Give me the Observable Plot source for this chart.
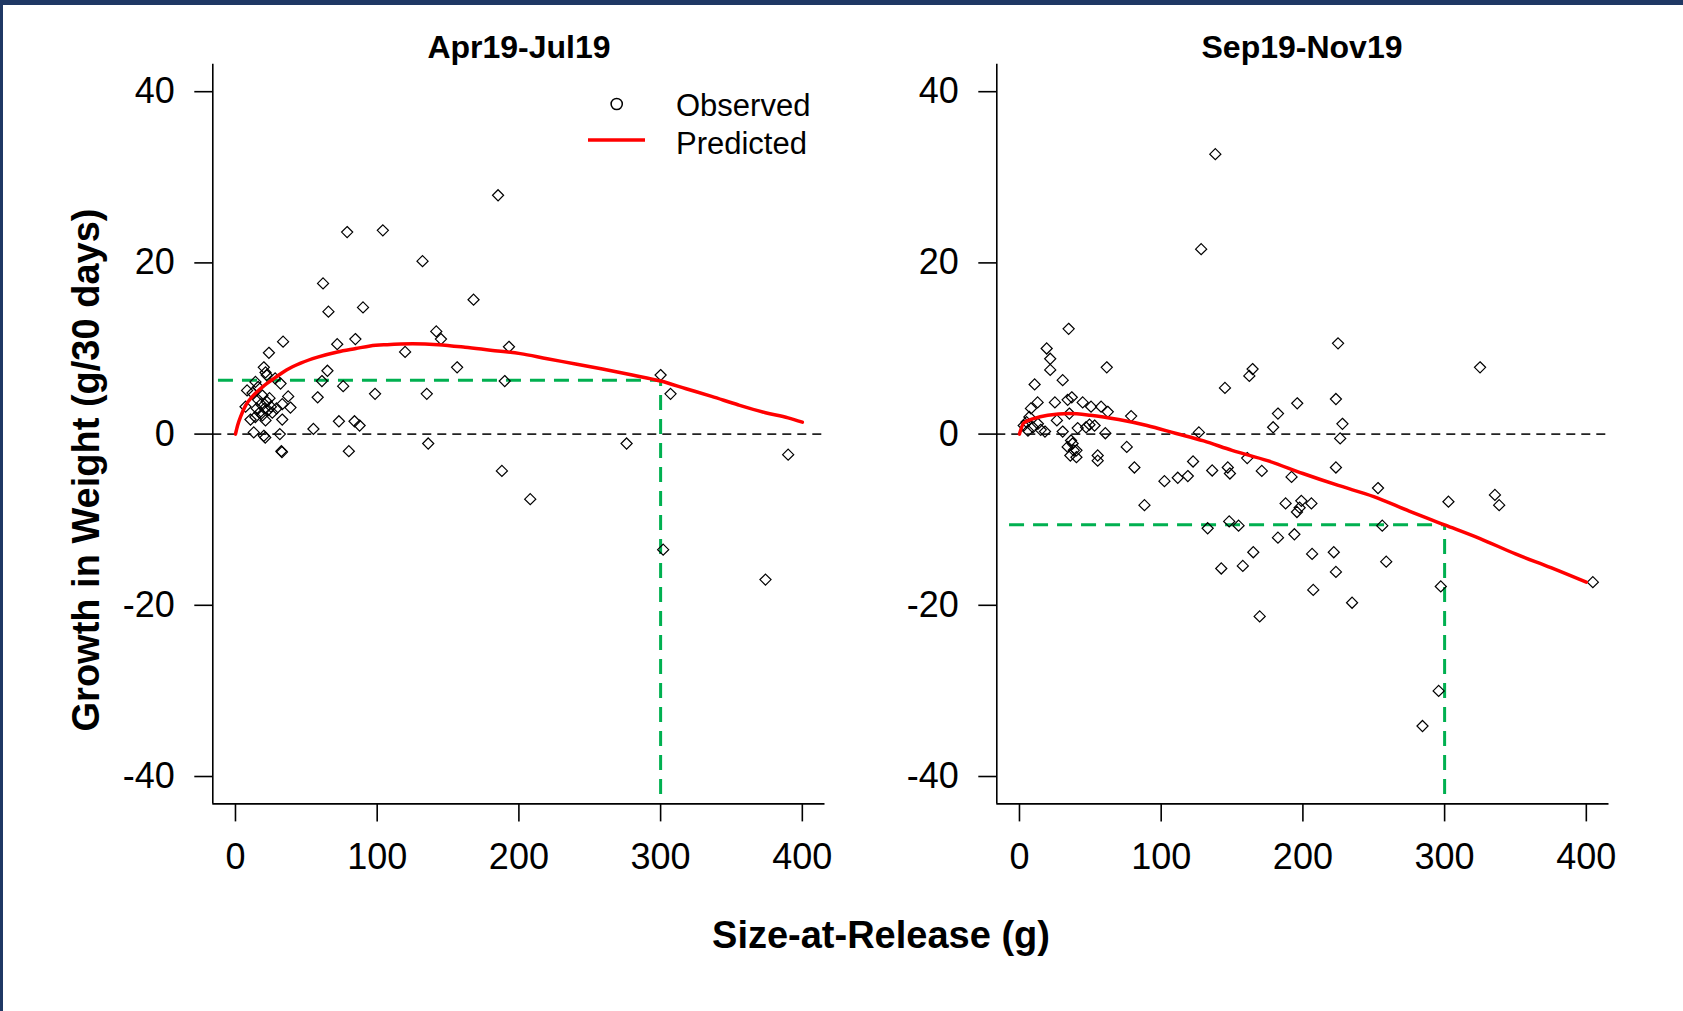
<!DOCTYPE html>
<html>
<head>
<meta charset="utf-8">
<script src="https://cdn.jsdelivr.net/npm/d3@7"></script>
<script src="https://cdn.jsdelivr.net/npm/@observablehq/plot@0.6"></script>
<style>
  html, body { margin: 0; padding: 0; background: #ffffff; }
  #wrap { position: relative; width: 1683px; height: 1011px; background: #ffffff; overflow: hidden;
          font-family: "Liberation Sans", Arial, sans-serif; }
  .panel { position: absolute; }
  #overlay { position: absolute; left: 0; top: 0; }
</style>
</head>
<body>
<div id="wrap"></div>
<script>
// ---------- data ----------
const panelTitles = ["Apr19-Jul19", "Sep19-Nov19"];
const xTitle = "Size-at-Release (g)";
const yTitle = "Growth in Weight (g/30 days)";
const legendLabels = ["Observed", "Predicted"];
const xTicks = [0, 100, 200, 300, 400];
const yTicks = [-40, -20, 0, 20, 40];
const xDomain = [-16, 416];
const yDomain = [-43.2, 43.2];

// Apr19-Jul19 observed
const aprObsX = [185.3, 78.8, 104, 132, 61.8, 168, 65.6, 90, 33.6, 23.6, 141.7, 145, 84.6, 71.8, 193, 119.7, 156.4, 64.9, 61, 190,
  76, 98.5, 135, 58, 300, 307, 55, 73, 84, 87.6, 136, 80, 276, 390, 188, 208, 301.8, 374, 32.4, 32.8,
  20, 21.2, 22, 14.1, 31.8, 8.2, 37.2, 38.8, 33, 7.1, 10.6, 21.2, 33, 12.9, 20, 21, 31.3, 16, 18, 19,
  20.5, 22, 23, 24, 25, 17, 15, 19, 26, 12, 16, 28, 29, 14];
const aprObsY = [27.9, 23.6, 23.8, 20.2, 17.6, 15.7, 14.3, 14.8, 10.8, 9.5, 12.0, 11.1, 11.1, 10.5, 10.2, 9.6, 7.8, 7.4, 6.2, 6.2,
  5.6, 4.7, 4.7, 4.3, 6.9, 4.7, 0.6, 1.5, 1.5, 1.0, -1.1, -2.0, -1.1, -2.4, -4.3, -7.6, -13.5, -17.0, -2.0, -2.1,
  7.8, 7.2, 6.9, 6.1, 5.9, 5.1, 4.4, 3.1, 3.5, 3.2, 1.7, 1.6, 1.7, 0.2, -0.2, -0.4, 0.0, 4.0, 3.5, 4.5,
  3.0, 3.8, 2.8, 4.2, 3.2, 2.5, 3.0, 2.2, 2.5, 4.8, 5.5, 6.5, 3.0, 2.0];
// Apr19-Jul19 predicted
const aprPredX = [0, 1.5, 4, 7, 12, 17.6, 22, 28, 36, 46, 58, 72, 85, 95, 107, 125, 143, 162, 180, 201,
  220, 240, 259, 280, 300, 318, 336, 355, 374, 390, 400];
const aprPredY = [0, 1.0, 2.2, 3.3, 4.4, 5.3, 5.9, 6.6, 7.5, 8.3, 9.0, 9.6, 10.0, 10.3, 10.45, 10.55, 10.45, 10.15, 9.8, 9.4,
  8.8, 8.2, 7.6, 6.9, 6.2, 5.3, 4.4, 3.4, 2.5, 1.9, 1.4];

// Sep19-Nov19 observed
const sepObsX = [34.7, 19.2, 21.7, 21.7, 61.6, 10.7, 30.5, 12.8, 8.1, 25, 34, 36.9, 44.6, 50.5, 57.6, 62.3, 78.8, 26.4, 35.2, 41.1,
  47, 49.4, 53, 60.6, 30.5, 18, 6, 75.7, 81.1, 36.4, 37.5, 34, 38.3, 35.9, 40.2, 40.2, 55.2, 55.2, 88.2, 5,
  9.5, 13, 15, 3, 7,
  138.2, 128.2, 224.8, 325, 164.5, 162.2, 145, 223.3, 196, 182.4, 227.9, 179, 126.6, 226.3, 122.5, 102.3, 111.7, 118.8, 136, 147,
  148.5, 160.7, 171, 223.3, 192, 253, 302.7, 335.5, 338.5, 187.8, 198.9, 197.7, 195.8, 206, 132.8, 148, 154.6, 182.4, 194, 256,
  165, 206.5, 221.8, 142.4, 157.6, 258.8, 223.3, 297.3, 404.6, 207.3, 234.7, 169.5, 295.8, 284.4];
const sepObsY = [12.3, 10.0, 8.8, 7.5, 7.8, 5.8, 6.3, 3.7, 3.0, 3.7, 4.0, 4.3, 3.7, 3.2, 3.2, 2.6, 2.1, 1.6, 2.4, 0.7,
  0.8, 1.1, 1.0, 0.1, 0.3, 0.3, 0.4, -1.5, -3.9, -0.75, -1.1, -1.5, -1.9, -2.5, -1.9, -2.7, -2.5, -3.1, -8.3, 1.4,
  0.8, 1.2, 0.5, 1.0, 2.0,
  32.7, 21.6, 10.6, 7.8, 7.6, 6.8, 5.4, 4.1, 3.6, 2.4, 1.2, 0.8, 0.2, -0.5, -3.2, -5.5, -5.1, -4.9, -4.25, -3.9,
  -4.6, -2.8, -4.3, -3.9, -5.0, -6.3, -7.9, -7.1, -8.3, -8.1, -7.8, -8.6, -9.1, -8.1, -11.0, -10.2, -10.7, -12.1, -11.7, -10.7,
  -13.8, -14.0, -13.8, -15.7, -15.4, -14.9, -16.1, -17.8, -17.3, -18.2, -19.7, -21.3, -30.0, -34.1];
// Sep19-Nov19 predicted
const sepPredX = [0, 3, 10, 20, 35, 50, 70, 90, 110, 130, 150, 175, 200, 225, 250, 275, 300, 325, 350, 375, 400];
const sepPredY = [0, 1.3, 1.8, 2.2, 2.4, 2.2, 1.7, 1.0, 0.1, -0.8, -1.9, -3.1, -4.6, -6.0, -7.3, -9.0, -10.6, -12.2, -14.0, -15.6, -17.3];

// reference (green) lines: size 300 g and the predicted growth there
const refSize = 300;
const refGrowth = [6.3, -10.6];
const refStartX = [-12, -7];
const refBottomY = -42.1;

// ---------- drawing ----------
const FONT = "'Liberation Sans', Arial, Helvetica, sans-serif";
const W = 740, H = 840;
const M = {left: 112.3, right: 15.5, top: 3.8, bottom: 96.6};

function zip(xs, ys) { return xs.map((x, i) => ({x, y: ys[i]})); }
const fmt = d => String(d);

function panel(obsX, obsY, predX, predY, gy, gx0) {
  const obs = zip(obsX, obsY);
  const pred = zip(predX, predY);
  return Plot.plot({
    width: W, height: H,
    marginLeft: M.left, marginRight: M.right, marginTop: M.top, marginBottom: M.bottom,
    style: {fontFamily: FONT, fontSize: "36px", background: "transparent", overflow: "visible", color: "#000"},
    x: {domain: xDomain, axis: null},
    y: {domain: yDomain, axis: null},
    marks: [
      Plot.ruleY([0], {stroke: "#222", strokeWidth: 1.6, strokeDasharray: "9,6"}),
      Plot.ruleY([gy], {x1: gx0, x2: refSize, stroke: "#00b050", strokeWidth: 3, strokeDasharray: "15,9"}),
      Plot.ruleX([refSize], {y1: refBottomY, y2: gy, stroke: "#00b050", strokeWidth: 3, strokeDasharray: "15,9"}),
      Plot.dot(obs, {x: "x", y: "y", symbol: "diamond2", r: 5, stroke: "#000", strokeWidth: 1.2, fill: "none"}),
      Plot.line(pred, {x: "x", y: "y", stroke: "#ff0000", strokeWidth: 3.5, curve: "monotone-x"}),
      Plot.ruleX([xDomain[0]], {stroke: "#000", strokeWidth: 1.6}),
      Plot.ruleY([yDomain[0]], {stroke: "#000", strokeWidth: 1.6}),
      Plot.axisX({ticks: xTicks, tickFormat: fmt, tickSize: 18, tickPadding: 22, fontSize: 36, strokeWidth: 1.6, label: null}),
      Plot.axisY({ticks: yTicks, tickFormat: fmt, tickSize: 18, tickPadding: 20, fontSize: 36, strokeWidth: 1.6, label: null})
    ]
  });
}

const wrap = document.getElementById("wrap");

const p1 = panel(aprObsX, aprObsY, aprPredX, aprPredY, refGrowth[0], refStartX[0]);
p1.classList.add("panel");
p1.style.left = "100px"; p1.style.top = "60px";
wrap.appendChild(p1);

const p2 = panel(sepObsX, sepObsY, sepPredX, sepPredY, refGrowth[1], refStartX[1]);
p2.classList.add("panel");
p2.style.left = "883.6px"; p2.style.top = "60px";
wrap.appendChild(p2);

// overlay: titles, axis titles, legend, frame border
const svg = d3.create("svg").attr("id", "overlay").attr("width", 1683).attr("height", 1011)
  .style("font-family", FONT);

svg.append("rect").attr("x", 0).attr("y", 0).attr("width", 1683).attr("height", 5).attr("fill", "#1f3864");
svg.append("rect").attr("x", 0).attr("y", 0).attr("width", 3).attr("height", 1011).attr("fill", "#1f3864");

const titleX = [519, 1302];
panelTitles.forEach((t, i) => {
  svg.append("text").attr("x", titleX[i]).attr("y", 58).attr("text-anchor", "middle")
    .attr("font-weight", "bold").attr("font-size", 32).attr("fill", "#000").text(t);
});

svg.append("text").attr("x", 881).attr("y", 948).attr("text-anchor", "middle")
  .attr("font-weight", "bold").attr("font-size", 38).attr("fill", "#000").text(xTitle);

svg.append("text").attr("transform", "translate(99,470) rotate(-90)").attr("text-anchor", "middle")
  .attr("font-weight", "bold").attr("font-size", 38).attr("fill", "#000").text(yTitle);

// legend
svg.append("circle").attr("cx", 616.7).attr("cy", 104).attr("r", 5.6)
  .attr("fill", "none").attr("stroke", "#000").attr("stroke-width", 1.5);
svg.append("line").attr("x1", 588).attr("x2", 645).attr("y1", 140).attr("y2", 140)
  .attr("stroke", "#ff0000").attr("stroke-width", 3.5);
svg.append("text").attr("x", 676).attr("y", 116).attr("font-size", 31).attr("fill", "#000").text(legendLabels[0]);
svg.append("text").attr("x", 676).attr("y", 154).attr("font-size", 31).attr("fill", "#000").text(legendLabels[1]);

wrap.appendChild(svg.node());
</script>
</body>
</html>
